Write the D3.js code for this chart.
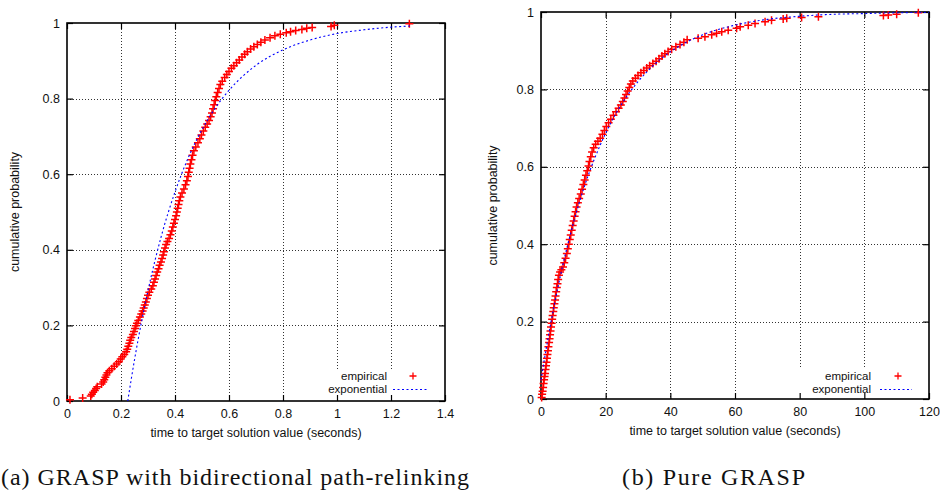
<!DOCTYPE html>
<html><head><meta charset="utf-8">
<script src="https://cdn.jsdelivr.net/npm/d3@7"></script>
<style>body{margin:0;background:#fff}svg{display:block}</style>
</head><body>
<svg id="chart" width="940" height="494"></svg>
<script>
// ---------- data ----------
const prXTicks = [0, 0.2, 0.4, 0.6, 0.8, 1, 1.2, 1.4];
const pureXTicks = [0, 20, 40, 60, 80, 100, 120];
const yTicks = [0, 0.2, 0.4, 0.6, 0.8, 1];
const legendLabels = ["empirical", "exponential"];
const captions = ["(a) GRASP with bidirectional path-relinking", "(b) Pure GRASP"];
const xTitle = "time to target solution value (seconds)";
const yTitle = "cumulative probability";

// (a) GRASP with bidirectional path-relinking: [time, cumulative probability]
const prEmpirical = [
[0.011,0.003],[0.058,0.008],[0.088,0.013],[0.092,0.018],[0.097,0.023],[0.103,0.028],[0.108,0.033],[0.112,0.038],
[0.128,0.045],[0.134,0.050],[0.138,0.056],[0.142,0.063],[0.146,0.069],[0.150,0.075],[0.157,0.080],[0.166,0.085],
[0.175,0.092],[0.184,0.098],[0.192,0.104],[0.199,0.111],[0.205,0.117],[0.212,0.123],[0.219,0.130],[0.223,0.137],
[0.227,0.145],[0.231,0.153],[0.234,0.161],[0.238,0.168],[0.244,0.176],[0.248,0.184],[0.252,0.192],[0.255,0.199],
[0.259,0.206],[0.264,0.213],[0.270,0.222],[0.275,0.230],[0.280,0.238],[0.284,0.246],[0.288,0.254],[0.292,0.262],
[0.296,0.271],[0.300,0.280],[0.305,0.288],[0.312,0.296],[0.318,0.305],[0.322,0.314],[0.326,0.323],[0.330,0.332],
[0.334,0.341],[0.339,0.350],[0.343,0.359],[0.348,0.368],[0.352,0.377],[0.356,0.386],[0.359,0.395],[0.363,0.405],
[0.367,0.414],[0.372,0.422],[0.378,0.430],[0.383,0.440],[0.388,0.450],[0.392,0.460],[0.396,0.470],[0.400,0.480],
[0.404,0.490],[0.407,0.500],[0.410,0.510],[0.413,0.520],[0.416,0.530],[0.420,0.540],[0.426,0.550],[0.433,0.561],
[0.439,0.572],[0.444,0.583],[0.448,0.594],[0.451,0.605],[0.454,0.616],[0.457,0.627],[0.461,0.638],[0.465,0.650],
[0.470,0.662],[0.477,0.672],[0.485,0.683],[0.492,0.694],[0.498,0.704],[0.505,0.714],[0.512,0.724],[0.519,0.733],
[0.526,0.742],[0.532,0.752],[0.537,0.762],[0.541,0.773],[0.545,0.784],[0.549,0.795],[0.553,0.805],[0.558,0.816],
[0.563,0.827],[0.568,0.837],[0.575,0.846],[0.584,0.856],[0.592,0.864],[0.600,0.872],[0.609,0.880],[0.618,0.887],
[0.628,0.895],[0.638,0.902],[0.648,0.910],[0.658,0.917],[0.668,0.924],[0.680,0.931],[0.692,0.937],[0.705,0.943],
[0.718,0.949],[0.733,0.955],[0.752,0.961],[0.770,0.966],[0.790,0.970],[0.812,0.974],[0.828,0.977],[0.847,0.980],
[0.870,0.983],[0.888,0.986],[0.908,0.988],[0.978,0.991],[0.990,0.994],[1.268,0.998]
];
const prExponential = [
[0.225,0.000],[0.250,0.109],[0.275,0.206],[0.300,0.292],[0.350,0.438],[0.400,0.553],[0.450,0.645],[0.500,0.718],
[0.550,0.776],[0.600,0.822],[0.700,0.888],[0.800,0.929],[0.900,0.955],[1.000,0.972],[1.100,0.982],[1.200,0.989],[1.270,0.992]
];

// (b) Pure GRASP: [time, cumulative probability]
const pureEmpirical = [
[0.2,0.004],[0.35,0.012],[0.5,0.020],[0.65,0.030],[0.8,0.040],[0.95,0.050],[1.1,0.058],[1.25,0.066],
[1.4,0.076],[1.55,0.086],[1.7,0.095],[1.85,0.105],[2.0,0.115],[2.15,0.125],[2.3,0.135],[2.5,0.146],
[2.65,0.156],[2.8,0.166],[2.95,0.176],[3.1,0.186],[3.3,0.196],[3.45,0.206],[3.6,0.216],[3.8,0.226],
[3.95,0.236],[4.15,0.246],[4.35,0.256],[4.5,0.266],[4.7,0.277],[4.9,0.288],[5.1,0.298],[5.3,0.309],
[5.55,0.320],[5.9,0.328],[6.3,0.334],[6.8,0.341],[7.2,0.352],[7.6,0.364],[8.0,0.376],[8.3,0.388],
[8.6,0.400],[8.9,0.412],[9.2,0.424],[9.5,0.436],[9.8,0.448],[10.1,0.460],[10.4,0.472],[10.7,0.484],
[11.0,0.496],[11.4,0.507],[11.8,0.518],[12.3,0.530],[12.7,0.542],[13.1,0.554],[13.5,0.566],[13.9,0.578],
[14.3,0.590],[14.7,0.602],[15.0,0.614],[15.4,0.626],[15.8,0.638],[16.3,0.649],[16.9,0.658],[17.6,0.666],
[18.3,0.674],[19.0,0.684],[19.6,0.694],[20.2,0.704],[20.9,0.714],[21.6,0.723],[22.4,0.733],[23.2,0.742],
[24.0,0.751],[24.7,0.760],[25.3,0.769],[25.8,0.778],[26.3,0.787],[26.8,0.796],[27.3,0.805],[27.8,0.814],
[28.4,0.822],[29.2,0.829],[30.0,0.836],[30.9,0.843],[31.8,0.849],[32.7,0.855],[33.6,0.861],[34.6,0.867],
[35.6,0.873],[36.5,0.879],[37.4,0.886],[38.3,0.892],[39.3,0.898],[40.4,0.904],[41.7,0.910],[43.0,0.916],
[44.2,0.922],[45.2,0.928],[48.6,0.932],[50.7,0.936],[52.8,0.941],[54.3,0.945],[55.9,0.949],[57.9,0.953],
[60.5,0.958],[61.6,0.962],[64.1,0.966],[66.2,0.970],[69.3,0.975],[71.3,0.979],[74.9,0.982],[76.0,0.984],
[80.6,0.986],[85.8,0.988],[105.9,0.991],[107.4,0.992],[110.0,0.994],[116.7,0.998]
];
const pureExponential = [
[0,0.049],[2,0.149],[4,0.238],[6,0.318],[8,0.390],[10,0.454],[12,0.512],[15,0.587],[18,0.650],[21,0.704],
[25,0.763],[30,0.820],[35,0.864],[40,0.897],[45,0.922],[50,0.941],[60,0.966],[70,0.981],[80,0.989],
[90,0.994],[100,0.996],[110,0.998],[120,0.999]
];

// ---------- drawing ----------
const svg = d3.select("#chart");
svg.append("rect").attr("width", 940).attr("height", 494).attr("fill", "#fff");
const SANS = "'Liberation Sans', Arial, Helvetica, sans-serif";

function drawPanel(o) {
  const g = svg.append("g");
  const x = d3.scaleLinear().domain(o.xDomain).range([o.left, o.right]);
  const y = d3.scaleLinear().domain([0, 1]).range([o.bottom, o.top]);
  const W = o.right - o.left, H = o.bottom - o.top;

  // grid
  const grid = g.append("g").attr("stroke", "#333").attr("stroke-width", 1).attr("stroke-dasharray", "1,2");
  grid.selectAll("line.gx").data(o.xTicks.slice(1, -1)).join("line").attr("class", "gx")
    .attr("x1", d => Math.round(x(d)) + 0.5).attr("x2", d => Math.round(x(d)) + 0.5)
    .attr("y1", o.top).attr("y2", o.bottom);
  grid.selectAll("line.gy").data(yTicks.slice(1, -1)).join("line").attr("class", "gy")
    .attr("y1", d => Math.round(y(d)) + 0.5).attr("y2", d => Math.round(y(d)) + 0.5)
    .attr("x1", o.left).attr("x2", o.right);

  // legend background (hides the grid like the key box does)
  g.append("rect").attr("x", o.legend.boxX).attr("y", o.legend.boxY)
    .attr("width", o.right - o.legend.boxX - 2).attr("height", o.bottom - o.legend.boxY - 1)
    .attr("fill", "#fff");

  // axes (ticks inward, mirrored)
  const fmt = d => String(d);
  const ax = g.append("g").attr("transform", `translate(0,${o.bottom})`)
    .call(d3.axisBottom(x).tickValues(o.xTicks).tickSize(-6).tickPadding(8).tickFormat(fmt));
  const ay = g.append("g").attr("transform", `translate(${o.left},0)`)
    .call(d3.axisLeft(y).tickValues(yTicks).tickSize(-6).tickPadding(7).tickFormat(fmt));
  const at = g.append("g").attr("transform", `translate(0,${o.top})`)
    .call(d3.axisTop(x).tickValues(o.xTicks).tickSize(-6).tickFormat(""));
  const ar = g.append("g").attr("transform", `translate(${o.right},0)`)
    .call(d3.axisRight(y).tickValues(yTicks).tickSize(-6).tickFormat(""));
  [ax, ay, at, ar].forEach(a => {
    a.select(".domain").remove();
    a.selectAll("line").attr("stroke", "#000").attr("stroke-width", 1.2);
    a.selectAll("text").attr("font-family", SANS).attr("font-size", 12.5).attr("fill", "#111");
  });

  // border
  g.append("rect").attr("x", o.left).attr("y", o.top).attr("width", W).attr("height", H)
    .attr("fill", "none").attr("stroke", "#000").attr("stroke-width", 1.6);

  // empirical points (+)
  const s = 4;
  g.append("g").selectAll("path").data(o.emp).join("path")
    .attr("d", d => `M${x(d[0]) - s},${y(d[1])}h${2 * s}M${x(d[0])},${y(d[1]) - s}v${2 * s}`)
    .attr("stroke", "#ff0000").attr("stroke-width", 1.5).attr("fill", "none");

  // exponential fit (dotted blue)
  const line = d3.line().x(d => x(d[0])).y(d => y(d[1])).curve(d3.curveMonotoneX);
  g.append("path").datum(o.exp).attr("d", line)
    .attr("fill", "none").attr("stroke", "#0000ff").attr("stroke-width", 1.1)
    .attr("stroke-dasharray", "2,2.5");

  // legend
  const L = o.legend;
  const fsL = 11.5;
  g.append("text").attr("x", L.textRight).attr("y", L.y1 + 4).attr("text-anchor", "end")
    .attr("font-family", SANS).attr("font-size", fsL).attr("fill", "#111").text(legendLabels[0]);
  g.append("text").attr("x", L.textRight).attr("y", L.y2 + 4).attr("text-anchor", "end")
    .attr("font-family", SANS).attr("font-size", fsL).attr("fill", "#111").text(legendLabels[1]);
  g.append("path").attr("d", `M${L.markX - 3.5},${L.y1}h7M${L.markX},${L.y1 - 3.5}v7`)
    .attr("stroke", "#ff0000").attr("stroke-width", 1.3);
  g.append("line").attr("x1", L.lineX1).attr("x2", L.lineX2).attr("y1", L.y2 + 0.5).attr("y2", L.y2 + 0.5)
    .attr("stroke", "#0000ff").attr("stroke-width", 1.1).attr("stroke-dasharray", "2,2.5");

  // axis titles
  g.append("text").attr("x", (o.left + o.right) / 2).attr("y", o.bottom + 36).attr("text-anchor", "middle")
    .attr("font-family", SANS).attr("font-size", 12.5).attr("fill", "#111").text(xTitle);
  g.append("text").attr("transform", `translate(${o.yTitleX},${(o.top + o.bottom) / 2}) rotate(-90)`)
    .attr("text-anchor", "middle").attr("font-family", SANS).attr("font-size", 12.5).attr("fill", "#111")
    .text(yTitle);

  // caption
  g.append("text").attr("x", o.capX).attr("y", 485)
    .attr("font-family", "'Liberation Serif', 'Times New Roman', serif").attr("font-size", 24)
    .attr("fill", "#111").attr("textLength", o.capW).attr("lengthAdjust", "spacing")
    .text(o.caption);
}

drawPanel({
  xDomain: [0, 1.4], xTicks: prXTicks, left: 67, right: 445, top: 23, bottom: 401,
  emp: prEmpirical, exp: prExponential, yTitleX: 19,
  legend: { boxX: 318, boxY: 370, textRight: 387, y1: 376, y2: 389, markX: 413, lineX1: 393, lineX2: 427 },
  caption: captions[0], capX: 1, capW: 468
});
drawPanel({
  xDomain: [0, 120], xTicks: pureXTicks, left: 541, right: 929, top: 12, bottom: 399,
  emp: pureEmpirical, exp: pureExponential, yTitleX: 497,
  legend: { boxX: 796, boxY: 369, textRight: 871, y1: 376, y2: 389, markX: 898, lineX1: 880, lineX2: 912 },
  caption: captions[1], capX: 622, capW: 183
});
</script>
</body></html>
